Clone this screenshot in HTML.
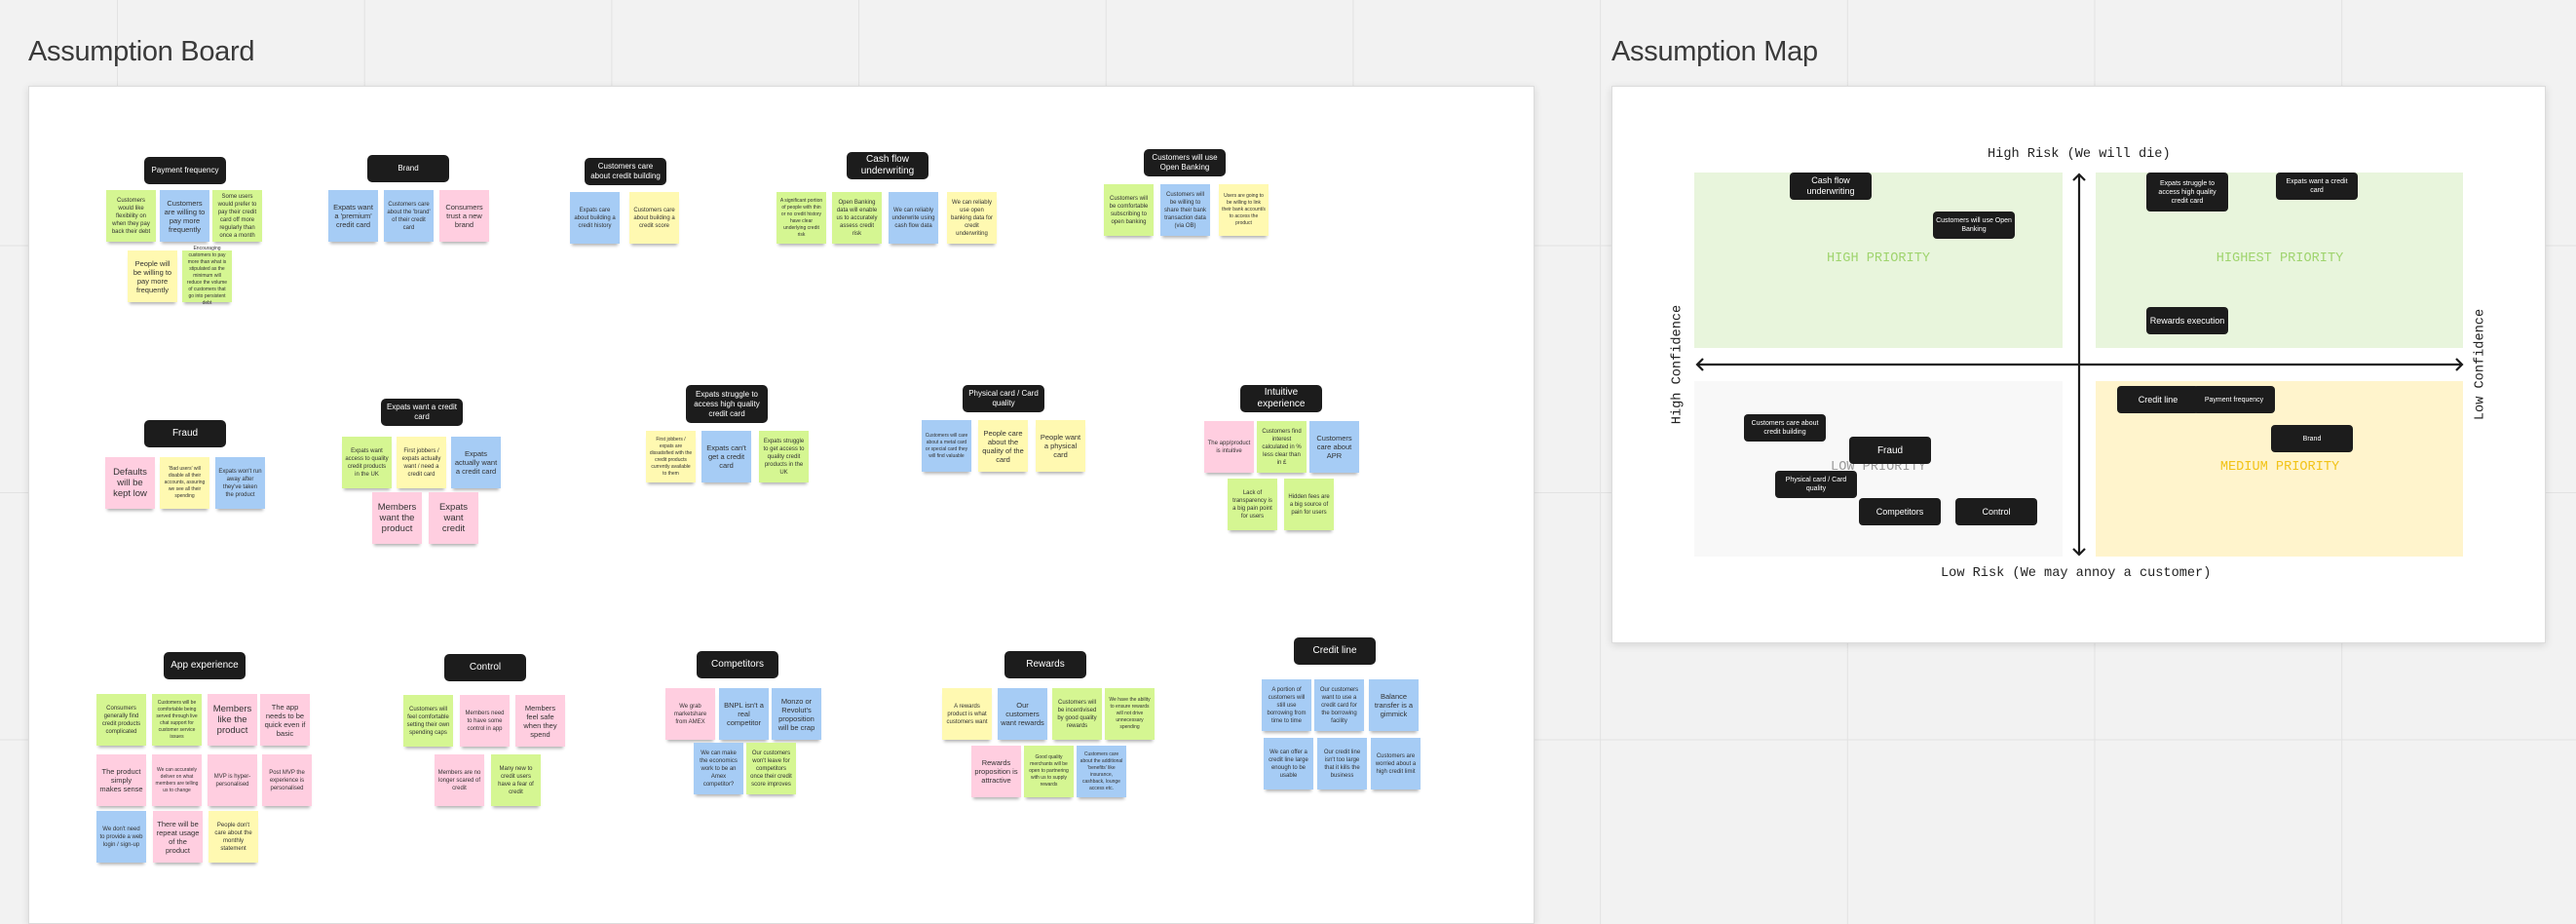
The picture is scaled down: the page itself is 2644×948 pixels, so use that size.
<!DOCTYPE html>
<html><head><meta charset="utf-8">
<style>
*{margin:0;padding:0;box-sizing:border-box}
body{width:2644px;height:932px;overflow:hidden;position:relative;background:#f2f2f2;font-family:"Liberation Sans",sans-serif;
background-image:linear-gradient(to right,#e2e2e2 1px,transparent 1px),linear-gradient(to bottom,#e2e2e2 1px,transparent 1px);
background-size:253.7px 253.5px;background-position:120px -2px;}
.t{position:absolute;font-size:29px;color:#3a3a3a;letter-spacing:-0.3px}
.frame{position:absolute;background:#fff;border:1px solid #dcdcdc;box-shadow:0 2px 8px rgba(0,0,0,.12)}
.h{position:absolute;width:84px;height:28px;background:#1c1c1c;border-radius:5px;color:#fff;font-size:8px;line-height:10px;display:flex;align-items:center;justify-content:center;text-align:center;padding:0 4px}
.s{position:absolute;width:51px;height:53px;font-size:6px;line-height:8px;color:#333;display:flex;align-items:center;justify-content:center;text-align:center;padding:3px;box-shadow:0 4px 3px -2px rgba(0,0,0,.3)}
.b{font-size:9.5px;line-height:11px}
.m{font-size:7.5px;line-height:9px}
.g{background:#d5f692}.bl{background:#a6ccf5}.p{background:#ffcee0}.y{background:#fff9b1}
.q{position:absolute}
.mono{position:absolute;font-family:"Liberation Mono",monospace;font-size:13.6px;color:#222;white-space:nowrap}
.c{position:absolute;width:84px;height:28px;background:#1c1c1c;border-radius:4px;color:#fff;font-size:7px;line-height:9px;display:flex;align-items:center;justify-content:center;text-align:center;padding:0 3px}
</style></head><body>
<div class="t" style="left:29px;top:37px">Assumption Board</div>
<div class="t" style="left:1654px;top:37px">Assumption Map</div>

<div class="frame" style="left:29px;top:88px;width:1546px;height:860px"></div>
<div class="frame" style="left:1654px;top:88px;width:959px;height:572px"></div>

<!-- Row 1 -->
<div class="h" style="left:148px;top:161px">Payment frequency</div>
<div class="s g" style="left:109px;top:195px">Customers would like flexibility on when they pay back their debt</div>
<div class="s bl m" style="left:164px;top:195px">Customers are willing to pay more frequently</div>
<div class="s g" style="left:218px;top:195px">Some users would prefer to pay their credit card off more regularly than once a month</div>
<div class="s y m" style="left:131px;top:257px">People will be willing to pay more frequently</div>
<div class="s g" style="left:187px;top:257px;font-size:5px;line-height:7px">Encouraging customers to pay more than what is stipulated as the minimum will reduce the volume of customers that go into persistent debt</div>

<div class="h" style="left:377px;top:159px">Brand</div>
<div class="s bl m" style="left:337px;top:195px">Expats want a 'premium' credit card</div>
<div class="s bl" style="left:394px;top:195px">Customers care about the 'brand' of their credit card</div>
<div class="s p m" style="left:451px;top:195px">Consumers trust a new brand</div>

<div class="h" style="left:600px;top:162px">Customers care about credit building</div>
<div class="s bl" style="left:585px;top:197px">Expats care about building a credit history</div>
<div class="s y" style="left:646px;top:197px">Customers care about building a credit score</div>

<div class="h" style="left:869px;top:156px;font-size:10px;line-height:12px">Cash flow underwriting</div>
<div class="s g" style="left:797px;top:197px;font-size:5px;line-height:7px">A significant portion of people with thin or no credit history have clear underlying credit risk</div>
<div class="s g" style="left:854px;top:197px">Open Banking data will enable us to accurately assess credit risk</div>
<div class="s bl" style="left:912px;top:197px">We can reliably underwrite using cash flow data</div>
<div class="s y" style="left:972px;top:197px">We can reliably use open banking data for credit underwriting</div>

<div class="h" style="left:1174px;top:153px">Customers will use Open Banking</div>
<div class="s g" style="left:1133px;top:189px">Customers will be comfortable subscribing to open banking</div>
<div class="s bl" style="left:1191px;top:189px">Customers will be willing to share their bank transaction data (via OB)</div>
<div class="s y" style="left:1251px;top:189px;font-size:5px;line-height:7px">Users are going to be willing to link their bank account/s to access the product</div>

<!-- Row 2 -->
<div class="h" style="left:148px;top:431px;font-size:10px">Fraud</div>
<div class="s p b" style="left:108px;top:469px">Defaults will be kept low</div>
<div class="s y" style="left:164px;top:469px;font-size:5px;line-height:7px">'Bad users' will disable all their accounts, assuring we see all their spending</div>
<div class="s bl" style="left:221px;top:469px">Expats won't run away after they've taken the product</div>

<div class="h" style="left:391px;top:409px">Expats want a credit card</div>
<div class="s g" style="left:351px;top:448px">Expats want access to quality credit products in the UK</div>
<div class="s y" style="left:407px;top:448px">First jobbers / expats actually want / need a credit card</div>
<div class="s bl m" style="left:463px;top:448px">Expats actually want a credit card</div>
<div class="s p b" style="left:382px;top:505px">Members want the product</div>
<div class="s p b" style="left:440px;top:505px">Expats want credit</div>

<div class="h" style="left:704px;top:395px;height:39px">Expats struggle to access high quality credit card</div>
<div class="s y" style="left:663px;top:442px;font-size:5px;line-height:7px">First jobbers / expats are dissatisfied with the credit products currently available to them</div>
<div class="s bl m" style="left:720px;top:442px">Expats can't get a credit card</div>
<div class="s g" style="left:779px;top:442px">Expats struggle to get access to quality credit products in the UK</div>

<div class="h" style="left:988px;top:395px">Physical card / Card quality</div>
<div class="s bl" style="left:946px;top:431px;font-size:5px;line-height:7px">Customers will care about a metal card or special card they will find valuable</div>
<div class="s y m" style="left:1004px;top:431px">People care about the quality of the card</div>
<div class="s y m" style="left:1063px;top:431px">People want a physical card</div>

<div class="h" style="left:1273px;top:395px;font-size:10px;line-height:12px">Intuitive experience</div>
<div class="s p" style="left:1236px;top:432px">The app/product is intuitive</div>
<div class="s g" style="left:1290px;top:432px">Customers find interest calculated in % less clear than in £</div>
<div class="s bl m" style="left:1344px;top:432px">Customers care about APR</div>
<div class="s g" style="left:1260px;top:491px">Lack of transparency is a big pain point for users</div>
<div class="s g" style="left:1318px;top:491px">Hidden fees are a big source of pain for users</div>

<!-- Row 3 -->
<div class="h" style="left:168px;top:669px;font-size:10px">App experience</div>
<div class="s g" style="left:99px;top:712px">Consumers generally find credit products complicated</div>
<div class="s g" style="left:156px;top:712px;font-size:5px;line-height:7px">Customers will be comfortable being served through live chat support for customer service issues</div>
<div class="s p b" style="left:213px;top:712px">Members like the product</div>
<div class="s p m" style="left:267px;top:712px">The app needs to be quick even if basic</div>
<div class="s p m" style="left:99px;top:774px">The product simply makes sense</div>
<div class="s p" style="left:156px;top:774px;font-size:5px;line-height:7px">We can accurately deliver on what members are telling us to change</div>
<div class="s p" style="left:213px;top:774px">MVP is hyper-personalised</div>
<div class="s p" style="left:269px;top:774px">Post MVP the experience is personalised</div>
<div class="s bl" style="left:99px;top:832px">We don't need to provide a web login / sign-up</div>
<div class="s p m" style="left:157px;top:832px">There will be repeat usage of the product</div>
<div class="s y" style="left:214px;top:832px">People don't care about the monthly statement</div>

<div class="h" style="left:456px;top:671px;font-size:10px">Control</div>
<div class="s g" style="left:414px;top:713px">Customers will feel comfortable setting their own spending caps</div>
<div class="s p" style="left:472px;top:713px">Members need to have some control in app</div>
<div class="s p m" style="left:529px;top:713px">Members feel safe when they spend</div>
<div class="s p" style="left:446px;top:774px">Members are no longer scared of credit</div>
<div class="s g" style="left:504px;top:774px">Many new to credit users have a fear of credit</div>

<div class="h" style="left:715px;top:668px;font-size:10px">Competitors</div>
<div class="s p" style="left:683px;top:706px">We grab marketshare from AMEX</div>
<div class="s bl m" style="left:738px;top:706px">BNPL isn't a real competitor</div>
<div class="s bl m" style="left:792px;top:706px">Monzo or Revolut's proposition will be crap</div>
<div class="s bl" style="left:712px;top:762px">We can make the economics work to be an Amex competitor?</div>
<div class="s g" style="left:766px;top:762px">Our customers won't leave for competitors once their credit score improves</div>

<div class="h" style="left:1031px;top:668px;font-size:10px">Rewards</div>
<div class="s y" style="left:967px;top:706px">A rewards product is what customers want</div>
<div class="s bl m" style="left:1024px;top:706px">Our customers want rewards</div>
<div class="s g" style="left:1080px;top:706px">Customers will be incentivised by good quality rewards</div>
<div class="s g" style="left:1134px;top:706px;font-size:5px;line-height:7px">We have the ability to ensure rewards will not drive unnecessary spending</div>
<div class="s p" style="left:997px;top:765px;font-size:7.5px;line-height:9px">Rewards proposition is attractive</div>
<div class="s g" style="left:1051px;top:765px;font-size:5px;line-height:7px">Good quality merchants will be open to partnering with us to supply rewards</div>
<div class="s bl" style="left:1105px;top:765px;font-size:5px;line-height:7px">Customers care about the additional 'benefits' like insurance, cashback, lounge access etc.</div>

<div class="h" style="left:1328px;top:654px;font-size:10px">Credit line</div>
<div class="s bl" style="left:1295px;top:697px">A portion of customers will still use borrowing from time to time</div>
<div class="s bl" style="left:1349px;top:697px">Our customers want to use a credit card for the borrowing facility</div>
<div class="s bl m" style="left:1405px;top:697px">Balance transfer is a gimmick</div>
<div class="s bl" style="left:1297px;top:757px">We can offer a credit line large enough to be usable</div>
<div class="s bl" style="left:1352px;top:757px">Our credit line isn't too large that it kills the business</div>
<div class="s bl" style="left:1407px;top:757px">Customers are worried about a high credit limit</div>

<!-- Map -->
<div class="q" style="left:1739px;top:177px;width:378px;height:180px;background:#e8f5dc"></div>
<div class="q" style="left:2151px;top:177px;width:377px;height:180px;background:#e8f5dc"></div>
<div class="q" style="left:1739px;top:391px;width:378px;height:180px;background:#f8f8f8"></div>
<div class="q" style="left:2151px;top:391px;width:377px;height:180px;background:#fff4cc"></div>

<div class="mono" style="left:2040px;top:151px">High Risk (We will die)</div>
<div class="mono" style="left:1992px;top:581px">Low Risk (We may annoy a customer)</div>
<div class="mono" style="left:1722px;top:374px;transform:translate(-50%,-50%) rotate(-90deg)">High Confidence</div>
<div class="mono" style="left:2546px;top:374px;transform:translate(-50%,-50%) rotate(-90deg)">Low Confidence</div>

<div class="mono" style="left:1928px;top:258px;transform:translateX(-50%);color:#9fd46e">HIGH PRIORITY</div>
<div class="mono" style="left:2340px;top:258px;transform:translateX(-50%);color:#9fd46e">HIGHEST PRIORITY</div>
<div class="mono" style="left:1928px;top:472px;transform:translateX(-50%);color:#9a9a9a">LOW PRIORITY</div>
<div class="mono" style="left:2340px;top:472px;transform:translateX(-50%);color:#f2c318">MEDIUM PRIORITY</div>

<svg style="position:absolute;left:0;top:0" width="2644" height="932">
<g stroke="#1c1c1c" stroke-width="2.2" fill="none">
<line x1="1742" y1="374" x2="2527" y2="374"/>
<polyline points="1748,368 1742,374 1748,380"/>
<polyline points="2521,368 2527,374 2521,380"/>
<line x1="2134" y1="179" x2="2134" y2="569"/>
<polyline points="2128,185 2134,179 2140,185"/>
<polyline points="2128,563 2134,569 2140,563"/>
</g></svg>

<div class="c" style="left:1837px;top:177px;font-size:9px;line-height:11px">Cash flow underwriting</div>
<div class="c" style="left:1984px;top:217px">Customers will use Open Banking</div>
<div class="c" style="left:2203px;top:177px;height:40px">Expats struggle to access high quality credit card</div>
<div class="c" style="left:2336px;top:177px">Expats want a credit card</div>
<div class="c" style="left:2203px;top:315px;font-size:9px">Rewards execution</div>
<div class="c" style="left:2173px;top:396px;font-size:9px">Credit line</div>
<div class="c" style="left:2251px;top:396px">Payment frequency</div>
<div class="c" style="left:2331px;top:436px">Brand</div>
<div class="c" style="left:1790px;top:425px">Customers care about credit building</div>
<div class="c" style="left:1898px;top:448px;font-size:10px">Fraud</div>
<div class="c" style="left:1822px;top:483px">Physical card / Card quality</div>
<div class="c" style="left:1908px;top:511px;font-size:9px">Competitors</div>
<div class="c" style="left:2007px;top:511px;font-size:9px">Control</div>
</body></html>
